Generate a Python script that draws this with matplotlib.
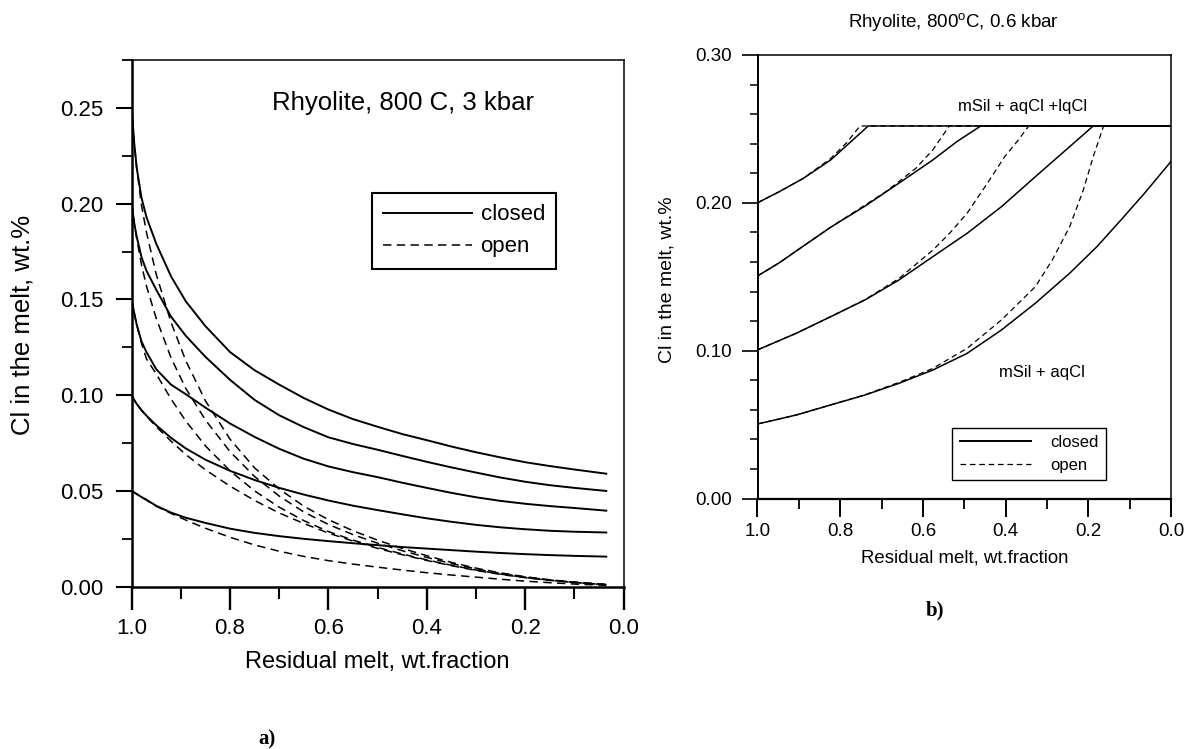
import matplotlib
matplotlib.use('Agg')
import matplotlib.pyplot as plt
from matplotlib.ticker import MultipleLocator, FormatStrFormatter
from matplotlib.lines import Line2D

plt.rcParams['font.family'] = ['Liberation Sans', 'DejaVu Sans']
plt.rcParams['mathtext.fontset'] = 'custom'
plt.rcParams['mathtext.rm'] = 'Liberation Sans'
plt.rcParams['mathtext.it'] = 'Liberation Sans:italic'

# ---------------- Panel a) data: Rhyolite, 800 C, 3 kbar ----------------
F_a = [1.0, 0.995, 0.99, 0.98, 0.97, 0.95, 0.92, 0.89, 0.85, 0.8, 0.75, 0.7, 0.65,
       0.6, 0.55, 0.5, 0.45, 0.4, 0.35, 0.3, 0.25, 0.2, 0.15, 0.1, 0.035]

closed_a_025 = [0.250, 0.232, 0.219, 0.203, 0.193, 0.179, 0.162, 0.149, 0.136, 0.1225, 0.113, 0.1055, 0.0985,
                0.0925, 0.0875, 0.0835, 0.0797, 0.0765, 0.0732, 0.0702, 0.0675, 0.0650, 0.0630, 0.0612, 0.0590]
closed_a_020 = [0.200, 0.190, 0.183, 0.172, 0.165, 0.155, 0.141, 0.131, 0.120, 0.108, 0.0975, 0.0895, 0.0833,
                0.0780, 0.0745, 0.0715, 0.0683, 0.0652, 0.0623, 0.0596, 0.0570, 0.0548, 0.0530, 0.0516, 0.0500]
closed_a_015 = [0.150, 0.143, 0.137, 0.128, 0.1225, 0.1135, 0.1055, 0.1005, 0.0935, 0.0852, 0.0782, 0.0720, 0.0668,
                0.0628, 0.0598, 0.0572, 0.0543, 0.0516, 0.0490, 0.0467, 0.0448, 0.0433, 0.0421, 0.0411, 0.0397]
closed_a_010 = [0.100, 0.0975, 0.0955, 0.0922, 0.0893, 0.0843, 0.0777, 0.0722, 0.0663, 0.0605, 0.0557, 0.0516, 0.0481,
                0.0450, 0.0423, 0.0400, 0.0378, 0.0357, 0.0339, 0.0323, 0.0310, 0.0300, 0.0292, 0.0287, 0.0283]
closed_a_005 = [0.050, 0.0492, 0.0484, 0.0468, 0.0454, 0.0422, 0.0387, 0.0360, 0.0333, 0.0303, 0.0281, 0.0264, 0.0250,
                0.0238, 0.0227, 0.0217, 0.0207, 0.0199, 0.0191, 0.0183, 0.0176, 0.0170, 0.0165, 0.0161, 0.0157]

open_a_025 = [0.250, 0.232, 0.219, 0.199, 0.185, 0.163, 0.138, 0.118, 0.097, 0.077, 0.062, 0.051, 0.042,
              0.0350, 0.0292, 0.0243, 0.0200, 0.0162, 0.0127, 0.0097, 0.0072, 0.0052, 0.0036, 0.0024, 0.0012]
open_a_020 = [0.200, 0.190, 0.182, 0.168, 0.157, 0.140, 0.1195, 0.1035, 0.087, 0.0705, 0.0575, 0.0473, 0.0390,
              0.0325, 0.0272, 0.0227, 0.0188, 0.0153, 0.0121, 0.0093, 0.0069, 0.0050, 0.0035, 0.0023, 0.0011]
open_a_015 = [0.150, 0.143, 0.137, 0.127, 0.119, 0.111, 0.098, 0.0865, 0.0735, 0.0605, 0.0500, 0.0415, 0.0345,
              0.0288, 0.0243, 0.0205, 0.0171, 0.0140, 0.0112, 0.0087, 0.0066, 0.0048, 0.0034, 0.0022, 0.0010]
open_a_010 = [0.100, 0.0975, 0.0955, 0.0920, 0.0890, 0.0835, 0.0760, 0.0690, 0.0610, 0.0525, 0.0450, 0.0385, 0.0330,
              0.0280, 0.0238, 0.0200, 0.0167, 0.0137, 0.0110, 0.0085, 0.0064, 0.0047, 0.0033, 0.0022, 0.0010]
open_a_005 = [0.050, 0.0492, 0.0484, 0.0467, 0.0452, 0.0420, 0.0383, 0.0348, 0.0305, 0.0258, 0.0218, 0.0185, 0.0158,
              0.0136, 0.0118, 0.0102, 0.0087, 0.0073, 0.0061, 0.0050, 0.0039, 0.0029, 0.0021, 0.0014, 0.0007]

closed_a = [closed_a_025, closed_a_020, closed_a_015, closed_a_010, closed_a_005]
open_a = [open_a_025, open_a_020, open_a_015, open_a_010, open_a_005]

# ---------------- Panel b) data: Rhyolite, 800oC, 0.6 kbar ----------------
F_b_closed_020 = [1.0, 0.947, 0.889, 0.823, 0.774, 0.732, 0.0]
C_b_closed_020 = [0.200, 0.2076, 0.2166, 0.2290, 0.2414, 0.2520, 0.2520]
F_b_open_020 = [1.0, 0.947, 0.889, 0.823, 0.785, 0.752, 0.0]
C_b_open_020 = [0.200, 0.2076, 0.2166, 0.2300, 0.2405, 0.2520, 0.2520]

F_b_closed_015 = [1.0, 0.947, 0.906, 0.823, 0.740, 0.658, 0.576, 0.518, 0.460, 0.0]
C_b_closed_015 = [0.1505, 0.1595, 0.1675, 0.1835, 0.1978, 0.2133, 0.2290, 0.2414, 0.2520, 0.2520]
F_b_open_015 = [1.0, 0.947, 0.906, 0.823, 0.740, 0.690, 0.658, 0.617, 0.576, 0.536, 0.0]
C_b_open_015 = [0.1505, 0.1595, 0.1675, 0.1835, 0.1985, 0.2075, 0.2144, 0.2234, 0.2358, 0.2520, 0.2520]

F_b_closed_010 = [1.0, 0.906, 0.823, 0.740, 0.658, 0.576, 0.493, 0.410, 0.328, 0.245, 0.188, 0.0]
C_b_closed_010 = [0.1005, 0.1118, 0.1230, 0.1343, 0.1478, 0.1636, 0.1794, 0.1974, 0.2177, 0.2380, 0.2520, 0.2520]
F_b_open_010 = [1.0, 0.906, 0.823, 0.740, 0.658, 0.576, 0.535, 0.493, 0.444, 0.402, 0.369, 0.344, 0.0]
C_b_open_010 = [0.1005, 0.1118, 0.1230, 0.1345, 0.1488, 0.1680, 0.1795, 0.1930, 0.2133, 0.2313, 0.2426, 0.2520, 0.2520]

F_b_closed_005 = [1.0, 0.906, 0.823, 0.740, 0.658, 0.576, 0.493, 0.410, 0.328, 0.245, 0.179, 0.121, 0.064, 0.0]
C_b_closed_005 = [0.0504, 0.0565, 0.0633, 0.0700, 0.0779, 0.0869, 0.0982, 0.1140, 0.1321, 0.1524, 0.1704, 0.1884, 0.2065, 0.2280]
F_b_open_005 = [1.0, 0.906, 0.823, 0.740, 0.658, 0.576, 0.493, 0.410, 0.328, 0.287, 0.245, 0.212, 0.188, 0.163, 0.0]
C_b_open_005 = [0.0504, 0.0565, 0.0633, 0.0702, 0.0785, 0.0880, 0.1016, 0.1208, 0.1433, 0.1614, 0.1839, 0.2087, 0.2313, 0.2520, 0.2520]

closed_b = [(F_b_closed_020, C_b_closed_020), (F_b_closed_015, C_b_closed_015),
            (F_b_closed_010, C_b_closed_010), (F_b_closed_005, C_b_closed_005)]
open_b = [(F_b_open_020, C_b_open_020), (F_b_open_015, C_b_open_015),
          (F_b_open_010, C_b_open_010), (F_b_open_005, C_b_open_005)]

legend_labels = ['closed', 'open']

# ---------------- Figure ----------------
W, H = 1195, 749
fig = plt.figure(figsize=(W / 100, H / 100), dpi=100)


def px_axes(x0, y0, x1, y1):
    return fig.add_axes([x0 / W, 1 - y1 / H, (x1 - x0) / W, (y1 - y0) / H])


axA = px_axes(131.7, 60, 623.5, 586.7)
axB = px_axes(757.5, 55, 1171, 498.5)

# ----- panel a -----
for c in closed_a:
    axA.plot(F_a, c, color='k', lw=1.4)
for c in open_a:
    axA.plot(F_a, c, color='k', lw=1.1, ls=(0, (5.5, 3.5)))

axA.set_xlim(1.0, 0.0)
axA.set_ylim(0.0, 0.275)
axA.xaxis.set_major_locator(MultipleLocator(0.2))
axA.xaxis.set_minor_locator(MultipleLocator(0.1))
axA.yaxis.set_major_locator(MultipleLocator(0.05))
axA.yaxis.set_minor_locator(MultipleLocator(0.025))
axA.xaxis.set_major_formatter(FormatStrFormatter('%.1f'))
axA.yaxis.set_major_formatter(FormatStrFormatter('%.2f'))
axA.tick_params(axis='x', which='major', direction='out', length=16.5, width=1.7, labelsize=16, pad=6)
axA.tick_params(axis='x', which='minor', direction='out', length=8.5, width=1.5)
axA.tick_params(axis='y', which='major', direction='out', length=11.3, width=1.5, labelsize=16, pad=9)
axA.tick_params(axis='y', which='minor', direction='out', length=7, width=1.3)
axA.spines['left'].set_linewidth(1.8)
axA.spines['bottom'].set_linewidth(1.8)
axA.spines['top'].set_linewidth(1.1)
axA.spines['right'].set_linewidth(1.1)

axA.set_xlabel('Residual melt, wt.fraction', fontsize=17)
axA.xaxis.set_label_coords(0.5, -0.143)
axA.xaxis.label.set_va('center')
axA.set_ylabel('Cl in the melt, wt.%', fontsize=18.5)
axA.yaxis.set_label_coords(-0.223, 0.497)
axA.yaxis.label.set_va('center')
axA.text(0.552, 0.918, 'Rhyolite, 800 C, 3 kbar', transform=axA.transAxes,
         fontsize=18.5, ha='center', va='center')

hA = [Line2D([], [], color='k', lw=1.4),
      Line2D([], [], color='k', lw=1.1, ls=(0, (5.5, 3.5)))]
legA = axA.legend(hA, legend_labels, loc='upper left', bbox_to_anchor=(0.488, 0.747),
                  borderaxespad=0, fontsize=16, handlelength=4.0, handletextpad=0.4,
                  borderpad=0.5, labelspacing=0.5, fancybox=False, framealpha=1,
                  edgecolor='k')
legA.get_frame().set_linewidth(1.5)

# ----- panel b -----
for f, c in closed_b:
    axB.plot(f, c, color='k', lw=1.1)
for f, c in open_b:
    axB.plot(f, c, color='k', lw=0.9, ls=(0, (4.5, 3.0)))

axB.set_xlim(1.0, 0.0)
axB.set_ylim(0.0, 0.30)
axB.xaxis.set_major_locator(MultipleLocator(0.2))
axB.xaxis.set_minor_locator(MultipleLocator(0.1))
axB.yaxis.set_major_locator(MultipleLocator(0.1))
axB.yaxis.set_minor_locator(MultipleLocator(0.02))
axB.xaxis.set_major_formatter(FormatStrFormatter('%.1f'))
axB.yaxis.set_major_formatter(FormatStrFormatter('%.2f'))
axB.tick_params(axis='x', which='major', direction='out', length=13, width=1.4, labelsize=13.5, pad=5)
axB.tick_params(axis='x', which='minor', direction='out', length=7, width=1.3)
axB.tick_params(axis='y', which='major', direction='out', length=11.5, width=1.2, labelsize=13.5, pad=7)
axB.tick_params(axis='y', which='minor', direction='out', length=5.8, width=1.1)
axB.spines['left'].set_linewidth(1.4)
axB.spines['bottom'].set_linewidth(1.6)
axB.spines['top'].set_linewidth(1.1)
axB.spines['right'].set_linewidth(1.1)

axB.set_xlabel('Residual melt, wt.fraction', fontsize=13.4)
axB.xaxis.set_label_coords(0.502, -0.134)
axB.xaxis.label.set_va('center')
axB.set_ylabel('Cl in the melt, wt.%', fontsize=14)
axB.yaxis.set_label_coords(-0.219, 0.493)
axB.yaxis.label.set_va('center')
axB.text(0.473, 1.074, r'Rhyolite, 800$^{\mathrm{o}}$C, 0.6 kbar', transform=axB.transAxes,
         fontsize=13.5, ha='center', va='center')
axB.text(0.642, 0.885, 'mSil + aqCl +lqCl', transform=axB.transAxes,
         fontsize=12, ha='center', va='center')
axB.text(0.687, 0.284, 'mSil + aqCl', transform=axB.transAxes,
         fontsize=12, ha='center', va='center')

hB = [Line2D([], [], color='k', lw=1.4),
      Line2D([], [], color='k', lw=0.9, ls=(0, (4.5, 3.0)))]
legB = axB.legend(hB, legend_labels, loc='upper left', bbox_to_anchor=(0.471, 0.160),
                  borderaxespad=0, fontsize=12, handlelength=4.3, handletextpad=1.1,
                  borderpad=0.45, labelspacing=0.45, fancybox=False, framealpha=1,
                  edgecolor='k')
legB.get_frame().set_linewidth(1.0)

# panel tags
fig.text(267 / W, 1 - 739 / H, 'a)', family=['Liberation Serif', 'DejaVu Serif'],
         fontweight='bold', fontsize=15, ha='center', va='center')
fig.text(935 / W, 1 - 610 / H, 'b)', family=['Liberation Serif', 'DejaVu Serif'],
         fontweight='bold', fontsize=15, ha='center', va='center')

fig.savefig('out.png', dpi=100)
